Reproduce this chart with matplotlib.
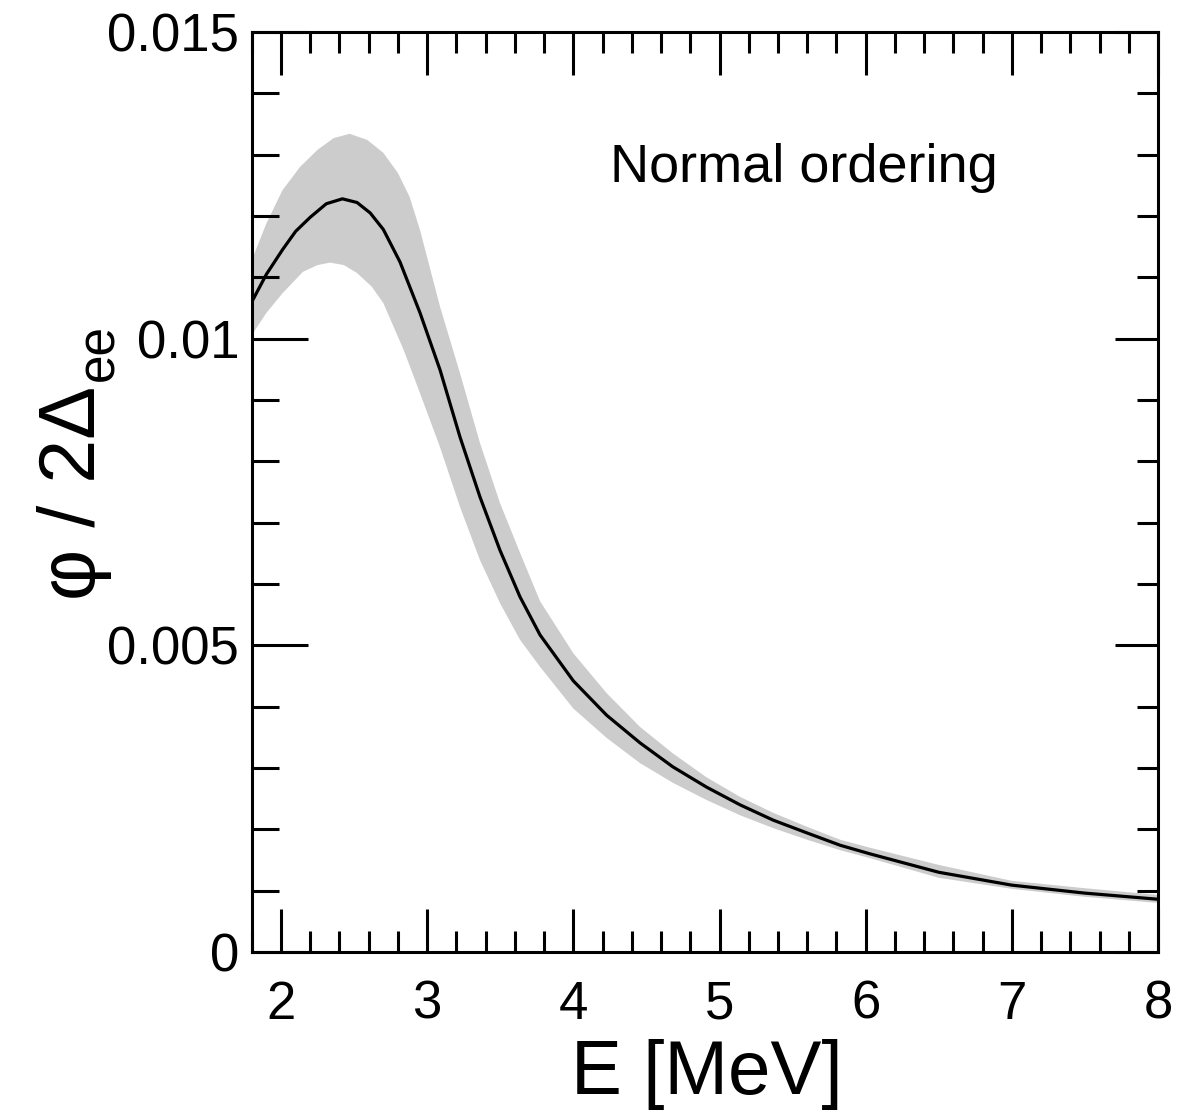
import matplotlib
matplotlib.use("Agg")
import matplotlib.pyplot as plt
from matplotlib.ticker import MultipleLocator, FixedLocator

plt.rcParams['font.family'] = ['Liberation Sans', 'DejaVu Sans']

# Central curve phi / 2 Delta_ee versus neutrino energy
energy_center = [1.80, 1.90, 2.01, 2.10, 2.20, 2.31, 2.42, 2.52, 2.61, 2.70,
                 2.814, 2.951, 3.088, 3.224, 3.361, 3.498, 3.635, 3.772, 4.00,
                 4.228, 4.456, 4.68, 4.91, 5.14, 5.367, 5.60, 5.826, 6.03,
                 6.50, 7.00, 7.50, 8.00]
phase_center = [0.01060, 0.01105, 0.01145, 0.01175, 0.01198, 0.01220, 0.01228,
                0.01222, 0.01205, 0.01178, 0.01125, 0.01042, 0.00949, 0.00840,
                0.00742, 0.00655, 0.00579, 0.00517, 0.00442, 0.00386, 0.00341,
                0.00302, 0.00269, 0.00240, 0.00215, 0.00194, 0.00174, 0.00160,
                0.00130, 0.00109, 0.00096, 0.00086]

# Upper edge of the uncertainty band
energy_upper = [1.80, 1.90, 2.01, 2.13, 2.25, 2.36, 2.47, 2.59, 2.70, 2.80,
                2.88, 2.951, 3.088, 3.224, 3.361, 3.498, 3.635, 3.772, 4.00,
                4.228, 4.456, 4.68, 4.91, 5.14, 5.367, 5.60, 5.826, 6.03,
                6.50, 7.00, 7.50, 8.00]
phase_upper = [0.01128, 0.01188, 0.01242, 0.01280, 0.01308, 0.01327, 0.01334,
               0.01324, 0.01303, 0.01270, 0.01231, 0.01177, 0.01052, 0.00944,
               0.00830, 0.00732, 0.00651, 0.00572, 0.00487, 0.00422, 0.00367,
               0.00324, 0.00285, 0.00253, 0.00227, 0.00204, 0.00183, 0.00170,
               0.00142, 0.00116, 0.00104, 0.00093]

# Lower edge of the uncertainty band
energy_lower = [1.80, 1.90, 2.01, 2.15, 2.25, 2.335, 2.43, 2.52, 2.62, 2.70,
                2.84, 2.951, 3.088, 3.224, 3.361, 3.498, 3.635, 3.772, 4.00,
                4.228, 4.456, 4.68, 4.91, 5.14, 5.367, 5.60, 5.826, 6.03,
                6.50, 7.00, 7.50, 8.00]
phase_lower = [0.01006, 0.01042, 0.01074, 0.01109, 0.01120, 0.01124, 0.01120,
               0.01107, 0.01085, 0.01058, 0.00981, 0.00911, 0.00823, 0.00726,
               0.00639, 0.00569, 0.00509, 0.00465, 0.00397, 0.00349, 0.00308,
               0.00276, 0.00248, 0.00223, 0.00202, 0.00183, 0.00166, 0.00153,
               0.00121, 0.00103, 0.00090, 0.00080]

x_ticks = [2, 3, 4, 5, 6, 7, 8]
y_ticks = [0, 0.005, 0.01, 0.015]
y_ticklabels = ['0', '0.005', '0.01', '0.015']

fig = plt.figure(figsize=(11.84, 11.19), dpi=100)
ax = fig.add_axes([251.8 / 1184, 1 - 952 / 1119, (1158 - 251.8) / 1184, (952 - 32) / 1119])

band_x = energy_upper + energy_lower[::-1]
band_y = phase_upper + phase_lower[::-1]
ax.fill(band_x, band_y, color='#cccccc', lw=0, zorder=1)
ax.plot(energy_center, phase_center, color='black', lw=2.3, zorder=2,
        solid_joinstyle='round')

ax.set_xlim(1.8, 8)
ax.set_ylim(0, 0.015)

ax.xaxis.set_major_locator(FixedLocator(x_ticks))
ax.xaxis.set_minor_locator(MultipleLocator(0.2))
ax.set_xticklabels([str(t) for t in x_ticks])
ax.yaxis.set_major_locator(FixedLocator(y_ticks))
ax.yaxis.set_minor_locator(MultipleLocator(0.001))
ax.set_yticklabels(y_ticklabels)

for s in ax.spines.values():
    s.set_linewidth(2.2)

ax.tick_params(axis='x', which='both', direction='in', top=True, bottom=True,
               width=2.2, labelsize=38, pad=20)
ax.tick_params(axis='x', which='major', length=31)
ax.tick_params(axis='x', which='minor', length=15)
ax.tick_params(axis='y', which='both', direction='in', left=True, right=False,
               width=2.2, labelsize=38, pad=9)
ax.tick_params(axis='y', which='major', length=40)
ax.tick_params(axis='y', which='minor', length=19.5)

# right-hand ticks are shorter than the left-hand ones
axr = ax.twinx()
axr.set_ylim(ax.get_ylim())
axr.yaxis.set_major_locator(FixedLocator(y_ticks))
axr.yaxis.set_minor_locator(MultipleLocator(0.001))
axr.tick_params(axis='y', which='both', direction='in', right=True,
                labelright=False, width=2.2)
axr.tick_params(axis='y', which='major', length=31)
axr.tick_params(axis='y', which='minor', length=15)
for s in axr.spines.values():
    s.set_visible(False)

ax.text(5.58, 0.01278, 'Normal ordering', fontsize=39, ha='center', va='center')

fig.text(707 / 1184, 1 - 1075 / 1119, 'E [MeV]', fontsize=55, ha='center', va='center')

# y label: main text plus a separately placed subscript
fig.text(95 / 1184, 1 - 600 / 1119, 'φ / 2Δ', fontsize=57, rotation=90,
         rotation_mode='anchor', ha='left', va='baseline')
fig.text(113 / 1184, 1 - 381 / 1119, 'ee', fontsize=37, rotation=90,
         rotation_mode='anchor', ha='left', va='baseline')

fig.savefig('out.png', dpi=100)
